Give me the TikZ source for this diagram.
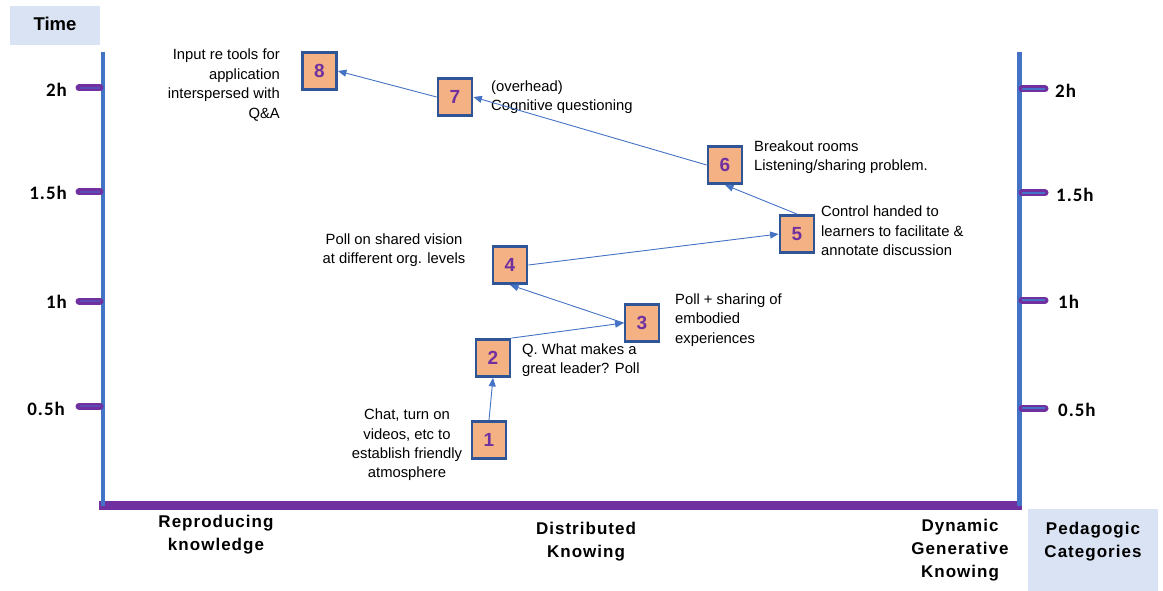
\documentclass[tikz,border=0pt]{standalone}
\usepackage{fontspec}
\setmainfont{Liberation Sans}
\newfontfamily\calib{Carlito}
\usetikzlibrary{arrows.meta}

\definecolor{axblue}{HTML}{4472C4}
\definecolor{axpurple}{HTML}{7030A0}
\definecolor{boxfill}{HTML}{F4B183}
\definecolor{boxedge}{HTML}{2F5597}
\definecolor{capfill}{HTML}{DAE3F3}
\definecolor{tickmid}{HTML}{5B4BB5}

\tikzset{
  stepbox/.style={draw=boxedge, line width=2.8pt, fill=boxfill, minimum width=34pt,
    minimum height=37pt, inner sep=0pt, text=axpurple,
    font=\fontsize{19}{20}\selectfont\bfseries},
  link/.style={draw=axblue, line width=0.9pt, -{Triangle[length=8.5pt,width=7pt]}},
  note/.style={font=\fontsize{14.8}{19.4}\selectfont, inner sep=0pt, text=black},
  cat/.style={font=\fontsize{17}{23}\selectfont\bfseries\addfontfeatures{LetterSpace=6},
    align=center, inner sep=0pt},
  ticklab/.style={font=\calib\fontsize{19}{20}\selectfont\bfseries\addfontfeatures{LetterSpace=5},
    inner sep=0pt},
  tickout/.style={draw=axpurple, line width=7pt, line cap=round},
}

\begin{document}
\begin{tikzpicture}[x=1pt, y=-1pt]
\useasboundingbox (0,0) rectangle (1163,591);

% caption boxes
\fill[capfill] (10,6) rectangle (100,45);
\node[font=\fontsize{18.5}{20}\selectfont\bfseries, inner sep=0pt] (time) at (55,24) {Time};
\fill[capfill] (1028,509) rectangle (1158,591);
\node[cat] (pedcat) at (1093,542) {Pedagogic\\Categories};

% axes
\draw[axpurple, line width=9pt] (99,505) -- (1022,505);
\draw[axblue, line width=4.5pt] (103,52) -- (103,506);
\draw[axblue, line width=4.5pt] (1019.5,52) -- (1019.5,506);

% time ticks, left
\foreach \yy in {88,192,301,406}{
  \draw[tickout] (79,\yy) -- (100,\yy);
  \draw[tickmid, line width=1.2pt] (80,\yy) -- (100,\yy);
}
% time ticks, right
\foreach \yy in {89,193,300,408}{
  \draw[tickout] (1022,\yy) -- (1045,\yy);
  \draw[axblue, line width=2.4pt] (1022,\yy) -- (1045,\yy);
}

% tick labels
\node[ticklab, anchor=east] (l2h)  at (67,90)  {2h};
\node[ticklab, anchor=east] (l15h) at (67,193) {1.5h};
\node[ticklab, anchor=east] (l1h)  at (67,302) {1h};
\node[ticklab, anchor=east] (l05h) at (65,409) {0.5h};
\node[ticklab, anchor=west] (r2h)  at (1055,91)  {2h};
\node[ticklab, anchor=west] (r15h) at (1056,195) {1.5h};
\node[ticklab, anchor=west] (r1h)  at (1058,302) {1h};
\node[ticklab, anchor=west] (r05h) at (1058,410) {0.5h};

% category labels along the bottom
\node[cat] (reprod) at (216,535) {Reproducing\\knowledge};
\node[cat] (distrib) at (586,542) {Distributed\\Knowing};
\node[cat] (dynamic) at (960,550) {Dynamic\\Generative\\Knowing};

% session steps
\node[stepbox] (n1) at (489,440) {1};
\node[stepbox] (n2) at (493,358) {2};
\node[stepbox] (n3) at (642,323) {3};
\node[stepbox] (n4) at (510,265) {4};
\node[stepbox] (n5) at (797,234) {5};
\node[stepbox] (n6) at (725,165) {6};
\node[stepbox] (n7) at (455,97)  {7};
\node[stepbox] (n8) at (319.5,71) {8};

% step descriptions
\node[note, align=center] (d1) at (407,445) {Chat, turn on\\videos, etc to\\establish friendly\\atmosphere};
\node[note, align=left, anchor=west] (d2) at (522,360) {Q. What makes a\\great leader? Poll};
\node[note, align=left, anchor=west] (d3) at (675,320) {Poll + sharing of\\embodied\\experiences};
\node[note, align=center] (d4) at (394,250) {Poll on shared vision\\at different org. levels};
\node[note, align=left, anchor=west] (d5) at (821,231) {Control handed to\\learners to facilitate \&\\annotate discussion};
\node[note, align=left, anchor=west] (d6) at (754,157) {Breakout rooms\\Listening/sharing problem.};
\node[note, align=left, anchor=west] (d7) at (491,97) {(overhead)\\Cognitive questioning};
\node[note, align=right, anchor=east] (d8) at (280,85) {Input re tools for\\application\\interspersed with\\Q\&A};

% progression
\draw[link] (n1.north) -- (n2.south);
\draw[link] (n2.north east) -- (n3.west);
\draw[link] (n3.west) -- (n4.south);
\draw[link] (n4.east) -- (n5.west);
\draw[link] (n5.north) -- (n6.south);
\draw[link] (n6.west) -- (n7.east);
\draw[link] (n7.west) -- (n8.east);
\end{tikzpicture}
\end{document}
